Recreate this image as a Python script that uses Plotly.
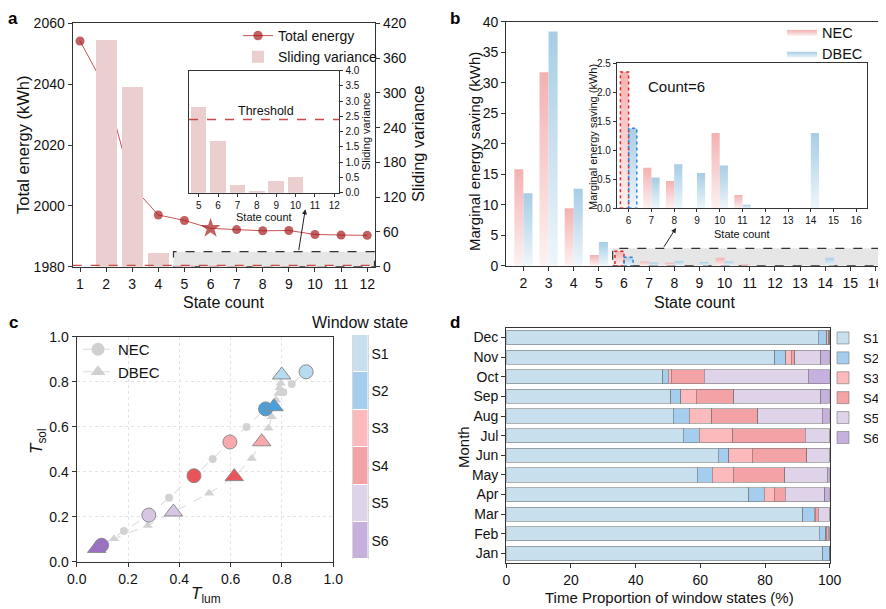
import plotly.graph_objects as go

# ---- panel a data ----
state_a = list(range(1, 13))
total_energy = [2054.2, 2038.3, 2006.5, 1997.0, 1995.2, 1992.6, 1992.2, 1991.8, 1991.9, 1990.6, 1990.4, 1990.3]
sliding_var = [None, 391, 309.5, 24, 2.8, 1.7, 0.25, 0.05, 0.4, 0.5, 0, 0]
threshold = 2.4
chosen_a = 6

# ---- panel b data ----
state_b = list(range(2, 17))
nec_save = [15.8, 31.7, 9.4, 1.75, 2.35, 0.7, 0.47, 0, 1.3, 0.23, 0, 0, 0, 0, 0]
dbec_save = [11.86, 38.4, 12.6, 3.9, 1.38, 0.53, 0.76, 0.61, 0.74, 0.06, 0, 0, 1.3, 0, 0]
chosen_b = 6

# ---- panel c data ----
nec_tlum = [0.097, 0.184, 0.281, 0.36, 0.457, 0.53, 0.597, 0.662, 0.736, 0.805, 0.838, 0.894]
nec_tsol = [0.073, 0.136, 0.207, 0.284, 0.382, 0.456, 0.532, 0.599, 0.679, 0.753, 0.79, 0.844]
dbec_tlum = [0.078, 0.145, 0.277, 0.377, 0.516, 0.614, 0.682, 0.721, 0.747, 0.76, 0.769, 0.777, 0.786, 0.79, 0.795, 0.799]
dbec_tsol = [0.059, 0.102, 0.161, 0.221, 0.304, 0.378, 0.459, 0.533, 0.593, 0.644, 0.689, 0.719, 0.748, 0.773, 0.793, 0.83]
nec_pick = [11, 8, 6, 4, 2, 0]    # S1..S6
dbec_pick = [15, 10, 7, 5, 3, 0]

# ---- panel d data ----
months = ['Jan', 'Feb', 'Mar', 'Apr', 'May', 'Jun', 'Jul', 'Aug', 'Sep', 'Oct', 'Nov', 'Dec']
states = ['S1', 'S2', 'S3', 'S4', 'S5', 'S6']
s1 = [97.9, 96.8, 91.6, 74.9, 59.0, 65.6, 54.7, 51.6, 50.8, 48.4, 83.0, 96.5]
s2 = [2.1, 1.9, 3.6, 4.9, 4.7, 3.2, 4.9, 4.9, 3.1, 1.7, 3.4, 2.6]
s3 = [0, 0.3, 0.3, 3.1, 6.5, 7.2, 10.4, 7.0, 4.9, 0.9, 1.7, 0.6]
s4 = [0, 0.5, 1.0, 3.4, 15.9, 16.9, 22.5, 14.3, 11.5, 10.2, 1.1, 0.3]
s5 = [0, 0.5, 3.5, 12.2, 13.2, 7.1, 7.5, 19.9, 27.0, 32.2, 8.1, 0]
s6 = [0, 0, 0, 1.5, 0.7, 0, 0, 2.3, 2.7, 6.6, 2.7, 0]

pale = ['#c8dfee', '#a5ceee', '#fdbabd', '#f3a3a6', '#ded3e8', '#c6b1de']
vivid = ['#b7dbf0', '#4aa0dc', '#f9a8ab', '#e95459', '#d6c6e4', '#9a6fc5']

FONT = 'Arial, Liberation Sans, sans-serif'
OFF = 8                      # page body margin
W, H = 886 - OFF, 609 - OFF


def fx(x):
    return (x - OFF) / W


def fy(y):
    return 1 - (y - OFF) / H


def px(x0, x1):
    return [fx(x0), fx(x1)]


def py(y0, y1):
    return [fy(y1), fy(y0)]


fig = go.Figure()

# ================= a =================
fig.add_trace(go.Bar(x=state_a, y=sliding_var, yaxis='y2', xaxis='x', width=0.8,
                     marker=dict(color='#ebcfcf', line=dict(width=0)), name='Sliding variance', legend='legend'))
sym = ['star' if s == chosen_a else 'circle' for s in state_a]
sz = [15 if s == chosen_a else 9 for s in state_a]
fig.add_trace(go.Scatter(x=state_a, y=total_energy, xaxis='x', yaxis='y', mode='lines+markers',
                         line=dict(color='#c85452', width=1),
                         marker=dict(color='#a51c1c', size=sz, symbol=sym, line=dict(width=0)),
                         name='Total energy', legend='legend'))
# inset a
fig.add_trace(go.Bar(x=state_a[4:], y=sliding_var[4:], xaxis='x2', yaxis='y3', width=0.8,
                     marker=dict(color='#ebcfcf', line=dict(width=0)), showlegend=False))


# ================= b =================
def grad_bars(xs, ys, left, w, top, bottom, xa, ya, name, first_legend):
    shown = False
    for x, y in zip(xs, ys):
        if not y:
            continue
        x0 = x - w if left else x
        x1 = x0 + w
        fig.add_trace(go.Scatter(
            x=[x0, x1, x1, x0, x0], y=[0, 0, y, y, 0], xaxis=xa, yaxis=ya,
            mode='lines', line=dict(width=0), fill='toself',
            fillgradient=dict(type='vertical', colorscale=[[0, bottom], [1, top]], start=0, stop=y),
            name=name, legend='legend2', legendgroup=name,
            showlegend=first_legend and not shown, hoverinfo='skip'))
        shown = True


BW = 0.36
grad_bars(state_b, nec_save, True, BW, '#f4b1b1', '#fdf1f1', 'x3', 'y4', 'NEC', True)
grad_bars(state_b, dbec_save, False, BW, '#a6cde5', '#eef6fb', 'x3', 'y4', 'DBEC', True)
grad_bars(state_b[4:], nec_save[4:], True, BW, '#f4b1b1', '#fdf1f1', 'x4', 'y5', 'NEC', False)
grad_bars(state_b[4:], dbec_save[4:], False, BW, '#a6cde5', '#eef6fb', 'x4', 'y5', 'DBEC', False)

# ================= c =================
fig.add_trace(go.Scatter(x=nec_tlum, y=nec_tsol, xaxis='x5', yaxis='y6', mode='lines+markers',
                         line=dict(color='#d6d6d6', width=1, dash='dash'),
                         marker=dict(color='#d2d2d2', size=8), showlegend=False))
fig.add_trace(go.Scatter(x=dbec_tlum, y=dbec_tsol, xaxis='x5', yaxis='y6', mode='lines+markers',
                         line=dict(color='#d6d6d6', width=1, dash='dash'),
                         marker=dict(color='#d2d2d2', size=9, symbol='triangle-up'), showlegend=False))
fig.add_trace(go.Scatter(x=[nec_tlum[i] for i in nec_pick], y=[nec_tsol[i] for i in nec_pick],
                         xaxis='x5', yaxis='y6', mode='markers',
                         marker=dict(color=vivid, size=14, line=dict(color='#8c8c8c', width=1)),
                         showlegend=False))
fig.add_trace(go.Scatter(x=[dbec_tlum[i] for i in dbec_pick], y=[dbec_tsol[i] for i in dbec_pick],
                         xaxis='x5', yaxis='y6', mode='markers',
                         marker=dict(color=vivid, size=16, symbol='triangle-up',
                                     line=dict(color='#8c8c8c', width=1)),
                         showlegend=False))
fig.add_trace(go.Scatter(x=[None], y=[None], xaxis='x5', yaxis='y6', mode='lines+markers', name='NEC',
                         line=dict(color='#dadada', width=1, dash='dash'),
                         marker=dict(color='#d0d0d0', size=13), legend='legend3'))
fig.add_trace(go.Scatter(x=[None], y=[None], xaxis='x5', yaxis='y6', mode='lines+markers', name='DBEC',
                         line=dict(color='#dadada', width=1, dash='dash'),
                         marker=dict(color='#d0d0d0', size=13, symbol='triangle-up'), legend='legend3'))
# window-state key
n = len(states)
fig.add_trace(go.Heatmap(z=[[i] for i in range(n)], y=states, x=[0], xaxis='x7', yaxis='y8',
                         colorscale=[[k / (n - 1), c] for k, c in enumerate(pale)],
                         showscale=False, ygap=1, hoverinfo='skip'))

# ================= d =================
for name, vals, col in zip(states, [s1, s2, s3, s4, s5, s6], pale):
    fig.add_trace(go.Bar(y=months, x=vals, orientation='h', xaxis='x6', yaxis='y7', width=0.72,
                         marker=dict(color=col, line=dict(color='rgba(110,110,110,0.55)', width=1)),
                         name=name, legend='legend4'))

# ---- axes ----
line = dict(showline=True, linecolor='#333333', linewidth=1.3, mirror=True, ticks='outside',
            ticklen=4, tickcolor='#333333', showgrid=False, zeroline=False, automargin=False)
small = {**line, 'ticklen': 3}
tf = dict(family=FONT, size=14, color='#111')
sf = dict(family=FONT, size=10, color='#111')

fig.update_layout(
    xaxis=dict(**line, domain=px(72.7, 375), anchor='y', range=[0.72, 12.3], tickvals=state_a, tickfont=tf),
    yaxis=dict(**line, domain=py(23.3, 266.7), anchor='x', range=[1980, 2060], dtick=20, tickfont=tf),
    yaxis2=dict(**{**line, 'mirror': False}, overlaying='y', side='right', anchor='x', range=[0, 420],
                dtick=60, tickfont=tf),
    xaxis2=dict(**small, domain=px(189, 339.3), anchor='y3', range=[4.5, 12.26], tickvals=state_a[4:],
                tickfont=sf),
    yaxis3=dict(**small, domain=py(70.7, 192.7), anchor='x2', side='right', range=[0, 4], dtick=0.5,
                tickformat='.1f', tickfont=sf),
    xaxis3=dict(**line, domain=px(506.3, 882.3), anchor='y4', range=[1.32, 16.27], tickvals=state_b,
                tickfont=tf),
    yaxis4=dict(**line, domain=py(21.7, 265.7), anchor='x3', range=[0, 40], dtick=5, tickfont=tf),
    xaxis4=dict(**small, domain=px(617, 867.3), anchor='y5', range=[5.49, 16.48], tickvals=state_b[4:],
                tickfont=sf),
    yaxis5=dict(**small, domain=py(63.3, 208.3), anchor='x4', range=[0, 2.5], dtick=0.5, tickformat='.1f',
                tickfont=sf),
    xaxis5=dict(**{**line, 'showgrid': True}, gridcolor='#e3e3e3', griddash='dot', domain=px(76.7, 333.3),
                anchor='y6', range=[0, 1], dtick=0.2, tickformat='.1f', tickfont=tf),
    yaxis6=dict(**{**line, 'showgrid': True}, gridcolor='#e3e3e3', griddash='dot', domain=py(336.7, 561.7),
                anchor='x5', range=[0, 1], dtick=0.2, tickformat='.1f', tickfont=tf),
    xaxis7=dict(domain=px(352.7, 367.7), anchor='y8', visible=False, showline=True, mirror=True,
                linecolor='#d8d8d8', automargin=False),
    yaxis8=dict(domain=py(335, 559.3), anchor='x7', side='right', autorange='reversed', showline=True,
                mirror=True, linecolor='#d8d8d8', ticks='', tickfont=tf, showgrid=False, zeroline=False,
                automargin=False),
    xaxis6=dict(**line, domain=px(506.3, 829.7), anchor='y7', range=[0, 100], dtick=20, tickfont=tf),
    yaxis7=dict(**line, domain=py(327.7, 563.3), anchor='x6', categoryorder='array', categoryarray=months,
                tickfont=tf),
    barmode='stack',
    width=W, height=H,
    margin=dict(l=0, r=0, t=0, b=0, autoexpand=False),
    plot_bgcolor='white', paper_bgcolor='white',
    font=dict(family=FONT, color='#111'),
    legend=dict(x=fx(238), y=fy(20), xanchor='left', yanchor='top', bgcolor='rgba(0,0,0,0)',
                font=dict(family=FONT, size=14), traceorder='reversed', tracegroupgap=0),
    legend2=dict(x=fx(782), y=fy(16), xanchor='left', yanchor='top', bgcolor='rgba(0,0,0,0)',
                 font=dict(family=FONT, size=14.5), tracegroupgap=0),
    legend3=dict(x=fx(78), y=fy(333), xanchor='left', yanchor='top', bgcolor='rgba(0,0,0,0)',
                 font=dict(family=FONT, size=15)),
    legend4=dict(x=fx(823), y=fy(323), xanchor='left', yanchor='top', bgcolor='rgba(0,0,0,0)',
                 font=dict(family=FONT, size=13), traceorder='normal', tracegroupgap=0),
    showlegend=True,
)

shapes = []
# a: threshold lines and zoom box
shapes.append(dict(type='line', xref='x domain', yref='y2', x0=0, x1=1, y0=threshold, y1=threshold,
                   line=dict(color='#c8494a', width=1.3, dash='dash')))
shapes.append(dict(type='line', xref='x2 domain', yref='y3', x0=0, x1=1, y0=threshold, y1=threshold,
                   line=dict(color='#c8494a', width=1.3, dash='dash')))
shapes.append(dict(type='rect', xref='x', yref='y2', x0=4.58, x1=12.28, y0=0, y1=26, layer='below',
                   fillcolor='#e6e6e6', line=dict(color='#333', width=1.2, dash='dash')))
# b: zoom box and dashed outline of chosen bars
shapes.append(dict(type='rect', xref='x3', yref='y4', x0=5.55, x1=16.25, y0=0, y1=2.85, layer='below',
                   fillcolor='#e6e6e6', line=dict(color='#333', width=1.2, dash='dash')))
ib = state_b.index(chosen_b)
for xa, ya in [('x3', 'y4'), ('x4', 'y5')]:
    shapes.append(dict(type='rect', xref=xa, yref=ya, x0=chosen_b - BW, x1=chosen_b, y0=0, y1=nec_save[ib],
                       line=dict(color='#e0262a', width=1.5, dash='dot')))
    shapes.append(dict(type='rect', xref=xa, yref=ya, x0=chosen_b, x1=chosen_b + BW, y0=0, y1=dbec_save[ib],
                       line=dict(color='#2f86d0', width=1.5, dash='dot')))
fig.update_layout(shapes=shapes)

ann = []


def label(text, x, y, size, angle=0, bold=False):
    ann.append(dict(text='<b>%s</b>' % text if bold else text, xref='paper', yref='paper',
                    x=fx(x), y=fy(y), xanchor='center', yanchor='middle', showarrow=False, textangle=angle,
                    font=dict(family=FONT, size=size, color='#000' if bold else '#111')))


for lab, xp, yp in [('a', 13, 19), ('b', 455, 19), ('c', 13, 322), ('d', 455, 322)]:
    label(lab, xp, yp, 17, bold=True)

# axis titles
label('State count', 224, 302, 16)
label('Total energy (kWh)', 23, 145, 16.5, -90)
label('Sliding variance', 418, 144, 16.5, -90)
label('State count', 264, 217, 11)
label('Sliding variance', 366, 131, 11, -90)
label('State count', 695, 302, 16)
label('Marginal energy saving (kWh)', 474, 152, 15, -90)
label('State count', 742, 234, 11)
label('Marginal energy saving (kWh)', 593, 137, 11, -90)
label('<i>T</i><sub>lum</sub>', 206, 595, 17)
label('<i>T</i><sub>sol</sub>', 38, 441, 17, -90)
label('Time Proportion of window states (%)', 669, 597, 15)
label('Month', 463, 447, 15, -90)
label('Window state', 360, 322, 16)

ann.append(dict(text='Threshold', xref='x2', yref='y3', x=8.5, y=threshold, yanchor='bottom',
                showarrow=False, font=dict(family=FONT, size=12.5, color='#111')))
ann.append(dict(text='Count=6', xref='x4', yref='y5', x=6.75, y=2.1, xanchor='left', showarrow=False,
                font=dict(family=FONT, size=15, color='#111')))
ann.append(dict(text='', xref='x', yref='y2', x=9.63, y=99, axref='x', ayref='y2', ax=9.37, ay=26,
                showarrow=True, arrowhead=2, arrowsize=1, arrowwidth=1, arrowcolor='#222'))
ann.append(dict(text='', xref='x3', yref='y4', x=8.07, y=6.2, axref='x3', ayref='y4', ax=7.55, ay=2.85,
                showarrow=True, arrowhead=2, arrowsize=1, arrowwidth=1, arrowcolor='#222'))
fig.update_layout(annotations=ann)

fig.write_html("out.html")
